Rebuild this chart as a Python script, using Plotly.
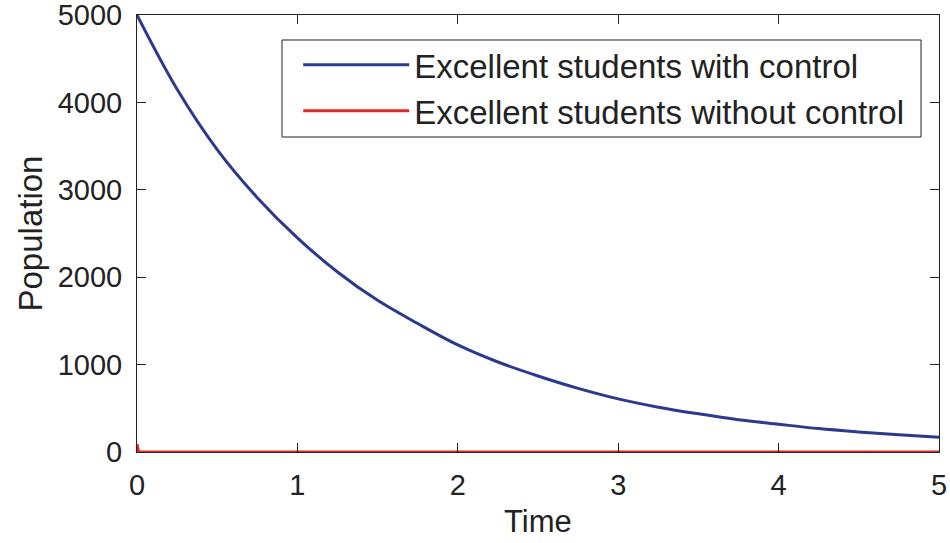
import plotly.graph_objects as go

# Data
time_with = [0.0, 0.25, 0.5, 0.75, 1.0, 1.25, 1.5, 1.75, 2.0, 2.25, 2.5,
             2.75, 3.0, 3.25, 3.5, 3.75, 4.0, 4.25, 4.5, 4.75, 5.0]
pop_with = [5000, 4150, 3460, 2910, 2450, 2060, 1735, 1470, 1225, 1030, 870,
            728, 608, 513, 437, 370, 318, 268, 230, 197, 170]

time_without = [0.0, 0.01, 5.0]
pop_without = [90, 0, 0]

x_ticks = [0, 1, 2, 3, 4, 5]
y_ticks = [0, 1000, 2000, 3000, 4000, 5000]

FONT = "Liberation Sans, Arial, Helvetica, sans-serif"
BLUE = "#2b3a8c"
RED = "#e02a27"
INK = "#222222"

fig = go.Figure()
fig.add_trace(go.Scatter(x=time_with, y=pop_with, mode="lines",
                         name="Excellent students with control",
                         line=dict(color=BLUE, width=3, shape="spline")))
fig.add_trace(go.Scatter(x=time_without, y=pop_without, mode="lines",
                         name="Excellent students without control",
                         line=dict(color=RED, width=3)))

axis_common = dict(showline=True, linecolor=INK, linewidth=1, mirror="ticks",
                   ticks="inside", ticklen=9, tickwidth=1, tickcolor=INK,
                   showgrid=False, zeroline=False, ticklabeloverflow="allow",
                   tickfont=dict(family=FONT, size=29, color=INK))

fig.update_xaxes(range=[0, 5], tickvals=x_ticks,
                 ticktext=[str(v) for v in x_ticks],
                 ticklabelstandoff=7, **axis_common)
fig.update_yaxes(range=[0, 5000], tickvals=y_ticks,
                 ticktext=[str(v) for v in y_ticks],
                 ticklabelstandoff=8, **axis_common)

fig.add_annotation(text="Time", xref="paper", yref="paper", x=0.5, y=-0.160,
                   xanchor="center", yanchor="middle", showarrow=False,
                   font=dict(family=FONT, size=31, color=INK))
fig.add_annotation(text="Population", xref="paper", yref="paper", x=-0.1334, y=0.5,
                   xanchor="center", yanchor="middle", textangle=-90, showarrow=False,
                   font=dict(family=FONT, size=33, color=INK))

# legend frame
fig.add_shape(type="rect", xref="paper", yref="paper",
              x0=0.1808, x1=0.9776, y0=0.7208, y1=0.9428,
              line=dict(color=INK, width=1), fillcolor="white", layer="above")

fig.update_layout(
    width=950, height=543,
    margin=dict(l=137, r=11, t=15, b=91, autoexpand=False),
    plot_bgcolor="white", paper_bgcolor="white",
    font=dict(family=FONT, color=INK),
    showlegend=True,
    legend=dict(x=0.201, y=0.950, xanchor="left", yanchor="top",
                bgcolor="rgba(0,0,0,0)", borderwidth=0,
                font=dict(family=FONT, size=33, color=INK),
                itemwidth=106, tracegroupgap=0),
)

fig.write_html("out.html", config={"displayModeBar": False},
               post_script="document.body.style.margin='0';document.body.style.overflow='hidden';")
